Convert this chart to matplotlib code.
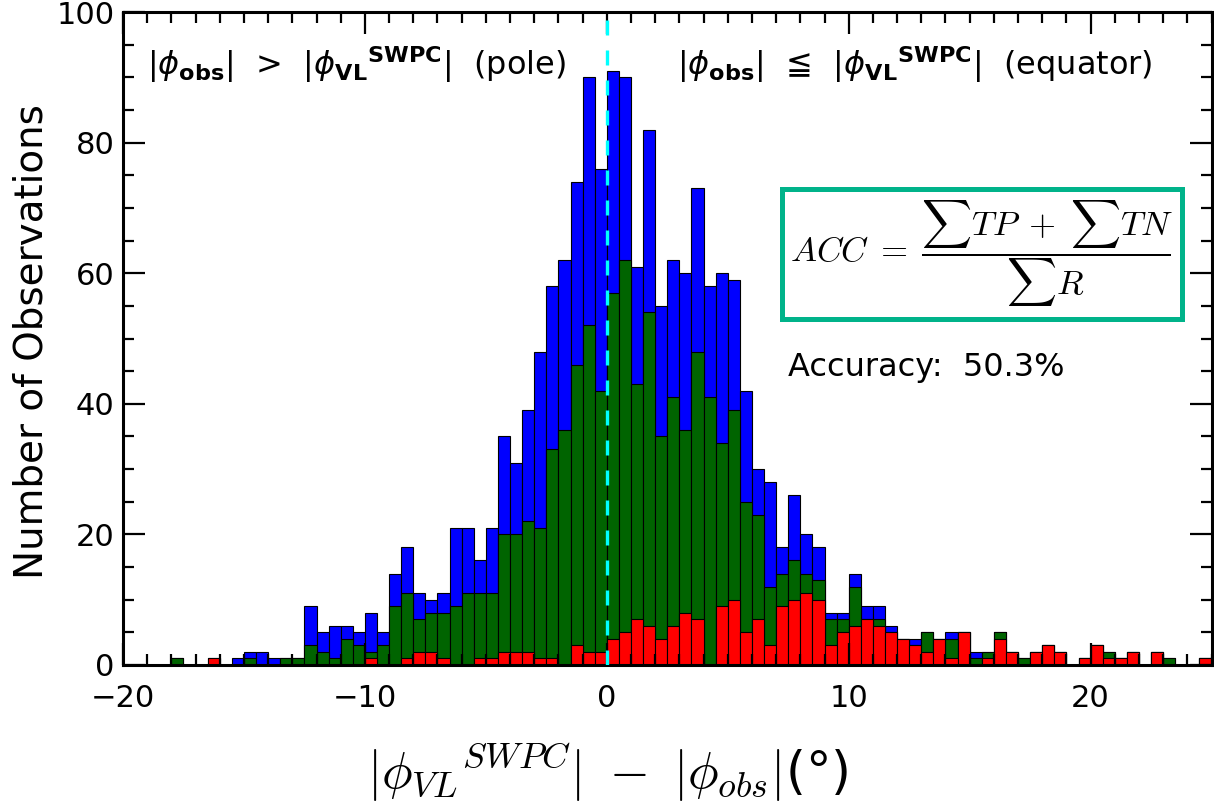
import matplotlib
matplotlib.use('Agg')
import matplotlib.pyplot as plt
import numpy as np
from matplotlib.patches import Rectangle

# histogram bins: 0.5 deg wide, from -20 to 25
bin_edges = np.arange(-20, 25.01, 0.5)

# all observations
total_counts = [0, 0, 0, 0, 1, 0, 0, 1, 0, 1,
                2, 2, 1, 1, 1, 9, 5, 6, 6, 5,
                8, 5, 14, 18, 11, 10, 11, 21, 21, 16,
                21, 35, 31, 39, 48, 58, 62, 74, 90, 76,
                91, 90, 61, 82, 55, 62, 60, 73, 58, 60,
                59, 42, 30, 28, 18, 26, 20, 18, 8, 8,
                14, 9, 9, 6, 4, 4, 5, 4, 5, 5,
                2, 2, 5, 2, 1, 2, 3, 2, 0, 1,
                3, 2, 1, 2, 0, 2, 1, 0, 0, 1]

# green subset
green_counts = [0, 0, 0, 0, 1, 0, 0, 0, 0, 0,
                1, 0, 0, 1, 1, 3, 2, 1, 4, 3,
                2, 3, 9, 11, 7, 8, 8, 9, 11, 11,
                11, 20, 20, 22, 21, 33, 36, 46, 52, 42,
                57, 62, 43, 54, 35, 41, 36, 48, 41, 34,
                39, 25, 23, 12, 14, 16, 14, 13, 7, 7,
                12, 7, 7, 5, 4, 3, 5, 4, 4, 5,
                1, 2, 5, 2, 1, 2, 3, 2, 0, 1,
                3, 2, 1, 2, 0, 2, 1, 0, 0, 1]

# red subset
red_counts = [0, 0, 0, 0, 0, 0, 0, 1, 0, 0,
              0, 0, 0, 0, 0, 0, 0, 0, 0, 0,
              1, 0, 0, 1, 2, 2, 1, 0, 0, 1,
              1, 2, 2, 2, 1, 1, 0, 3, 2, 2,
              4, 5, 7, 6, 4, 6, 8, 7, 0, 9,
              10, 5, 7, 3, 9, 10, 11, 10, 3, 5,
              6, 7, 6, 5, 4, 3, 2, 4, 1, 5,
              0, 1, 4, 2, 0, 2, 3, 2, 0, 1,
              3, 1, 1, 2, 0, 2, 0, 0, 0, 1]

accuracy = 50.3

plt.rcParams['font.family'] = ['DejaVu Sans']

fig = plt.figure(figsize=(12.14, 8.05), dpi=100)
ax = fig.add_axes([0.1013, 0.174, 0.8967, 0.811])

left = bin_edges[:-1]
for counts, col in [(total_counts, '#0000FF'), (green_counts, '#006400'), (red_counts, '#FF0000')]:
    ax.bar(left, counts, width=0.5, align='edge', color=col,
           edgecolor='black', linewidth=0.8)

# dividing line at zero
ax.axvline(0, color='#00FFFF', linewidth=2.4, dashes=(4.5, 4.5), zorder=5)

ax.set_xlim(-20, 25)
ax.set_ylim(0, 100)
ax.set_xticks([-20, -10, 0, 10, 20])
ax.set_xticks(np.arange(-20, 26, 1), minor=True)
ax.set_yticks([0, 20, 40, 60, 80, 100])
ax.set_yticks(np.arange(0, 101, 5), minor=True)
ax.tick_params(which='both', direction='in', top=True, right=True, labelsize=22)
ax.tick_params(which='major', length=16, width=1.6)
ax.tick_params(which='minor', length=8, width=1.6)
ax.tick_params(axis='x', pad=14)
ax.tick_params(axis='y', pad=6)
for sp in ax.spines.values():
    sp.set_linewidth(2.2)

ax.set_ylabel('Number of Observations', fontsize=28)
ax.yaxis.set_label_coords(-0.067, 0.495)

ax.text(0.445, -0.165, r'$|{\phi_{VL}}^{SWPC}|\ -\ |\phi_{obs}|$(°)', transform=ax.transAxes,
        ha='center', va='center', fontsize=37, math_fontfamily='cm')

ax.text(-19.0, 92, r'$|\phi_{\mathbf{obs}}|$  >  $|{\phi_{\mathbf{VL}}}^{\mathbf{SWPC}}|$  (pole)',
        ha='left', va='center', fontsize=23, math_fontfamily='dejavusans')
ax.text(2.9, 92, r'$|\phi_{\mathbf{obs}}|$  ≦  $|{\phi_{\mathbf{VL}}}^{\mathbf{SWPC}}|$  (equator)',
        ha='left', va='center', fontsize=23, math_fontfamily='dejavusans')

# accuracy formula box
box = Rectangle((0.605, 0.530), 0.3675, 0.199, transform=ax.transAxes, fill=False,
                edgecolor='#00B38A', linewidth=3.6, zorder=6)
ax.add_patch(box)
ax.text(0.7885, 0.6295, r'$ACC\;=\;\dfrac{\sum TP\;+\;\sum TN}{\sum R}$', transform=ax.transAxes,
        ha='center', va='center', fontsize=25, math_fontfamily='cm', zorder=7)
ax.text(0.611, 0.455, 'Accuracy:  %.1f%%' % accuracy, transform=ax.transAxes,
        ha='left', va='center', fontsize=23)

fig.savefig('out.png', dpi=100)
